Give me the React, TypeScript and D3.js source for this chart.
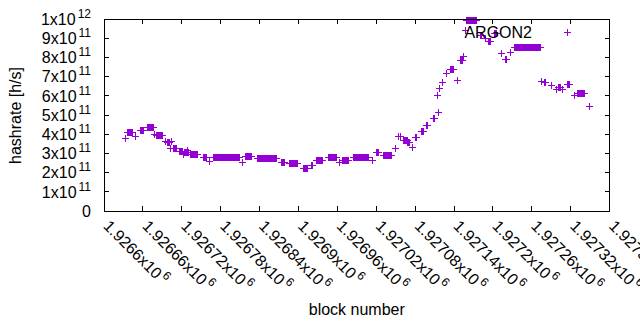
import React from 'react'
import * as d3 from 'd3'

// block offsets are relative to this block
const baseBlock = 1926600

// flat runs of blocks at the same hashrate (x1e11 h/s)
const runFrom = [33, 35, 48, 55, 67, 77, 80, 94, 97, 102, 103, 107, 115, 122, 123, 128, 133, 152, 162, 168,
  213, 218, 236, 273, 286, 307, 319, 327, 345, 363, 367, 384, 413, 419, 430, 449, 453, 456, 462, 468,
  475, 480, 489, 497, 507, 513, 515, 517, 521, 527, 534, 545, 549, 554, 557, 558, 580, 588, 593, 602,
  612, 619, 627, 633, 674, 679, 690, 697, 701, 706, 714, 725, 729, 748]
const runTo = [33, 43, 48, 60, 75, 77, 89, 94, 100, 102, 103, 111, 121, 122, 130, 128, 143, 158, 162, 208,
  213, 227, 265, 278, 298, 313, 321, 336, 358, 363, 377, 408, 413, 422, 442, 449, 453, 457, 467, 471,
  475, 482, 492, 499, 509, 513, 515, 517, 521, 527, 539, 545, 552, 554, 557, 574, 582, 588, 595, 604,
  612, 620, 627, 673, 674, 680, 690, 697, 703, 706, 718, 725, 741, 748]
const runRate = [3.8, 4.1, 3.93, 4.21, 4.37, 4.0, 3.96, 3.62, 3.61, 3.27, 3.62, 3.27, 3.1, 2.95, 3.05, 3.18, 2.97, 2.83, 2.6, 2.8,
  2.55, 2.86, 2.74, 2.55, 2.48, 2.22, 2.42, 2.64, 2.81, 2.55, 2.66, 2.83, 2.65, 3.09, 2.92, 3.27, 3.9, 3.91, 3.7, 3.6,
  3.35, 3.87, 4.18, 4.48, 4.83, 6.04, 5.17, 6.39, 6.73, 7.21, 7.4, 6.82, 7.89, 8.09, 9.43, 9.96, 9.15, 9.0, 8.85, 9.27,
  8.21, 7.9, 8.27, 8.56, 6.77, 6.74, 6.56, 6.33, 6.47, 6.35, 6.61, 6.06, 6.17, 5.47]

const xTicks = d3.range(0, 781, 60).map(d => baseBlock + d)
const yTicks = d3.range(0, 11).map(d => d * 1e11)

const font = '"Liberation Sans", Arial, sans-serif'
const color = '#9400d3'

function plus(cx: number, cy: number, r = 3.5) {
  return `M${cx - r},${cy}h${2 * r}M${cx},${cy - r}v${2 * r}`
}

export default function App() {
  const left = 104, right = 609.6, top = 19, bottom = 211
  const x = d3.scaleLinear().domain([baseBlock, baseBlock + 780]).range([left, right])
  const y = d3.scaleLinear().domain([0, 1e12]).range([bottom, top])

  const points: { block: number; rate: number }[] = []
  runFrom.forEach((f, i) => {
    for (let b = f; b <= runTo[i]; b++) points.push({ block: baseBlock + b, rate: runRate[i] * 1e11 })
  })

  const markerPath = points
    .map(p => plus(Math.round(x(p.block)) + 0.5, Math.round(y(p.rate)) + 0.5))
    .join('')

  return (
    <svg width={640} height={330} style={{ position: 'absolute', left: 0, top: 0, background: '#fff' }}
      fontFamily={font} fontSize={16}>
      {/* ticks, mirrored on all sides */}
      <g stroke="#000" strokeWidth={1} shapeRendering="crispEdges">
        {xTicks.map(t => (
          <g key={t}>
            <line x1={x(t)} x2={x(t)} y1={bottom} y2={bottom - 5} />
            <line x1={x(t)} x2={x(t)} y1={top} y2={top + 5} />
          </g>
        ))}
        {yTicks.map(t => (
          <g key={t}>
            <line x1={left} x2={left + 5} y1={y(t)} y2={y(t)} />
            <line x1={right} x2={right - 5} y1={y(t)} y2={y(t)} />
          </g>
        ))}
      </g>

      {/* y labels */}
      {yTicks.map(t => {
        if (t === 0) return <text key={t} x={91} y={y(t) + 5.7} textAnchor="end">0</text>
        const exp = Math.floor(Math.log10(t) + 1e-9)
        const mant = Math.round(t / Math.pow(10, exp))
        return (
          <text key={t} x={91} y={y(t) + 5.7} textAnchor="end">
            {`${mant}x10`}
            <tspan dx={2} dy={-7} fontSize={12}>{exp}</tspan>
          </text>
        )
      })}

      {/* x labels, rotated */}
      {xTicks.map(t => (
        <text key={t} transform={`translate(${x(t) - 1.5},227) rotate(45)`}>
          {`${+(t / 1e6).toFixed(5)}x10`}
          <tspan dx={2} dy={-7} fontSize={12}>6</tspan>
        </text>
      ))}

      <text transform="translate(21,115.5) rotate(-90)" textAnchor="middle">hashrate [h/s]</text>
      <text x={356.8} y={315} textAnchor="middle">block number</text>

      <path d={markerPath} fill="none" stroke={color} strokeWidth={1} shapeRendering="crispEdges" />

      {/* key */}
      <text x={532} y={37.5} textAnchor="end">ARGON2</text>
      <path d={plus(567.5, 32.5)} stroke={color} strokeWidth={1} shapeRendering="crispEdges" />

      <rect x={left} y={top} width={right - left} height={bottom - top} fill="none" stroke="#000"
        strokeWidth={1} shapeRendering="crispEdges" />
    </svg>
  )
}
